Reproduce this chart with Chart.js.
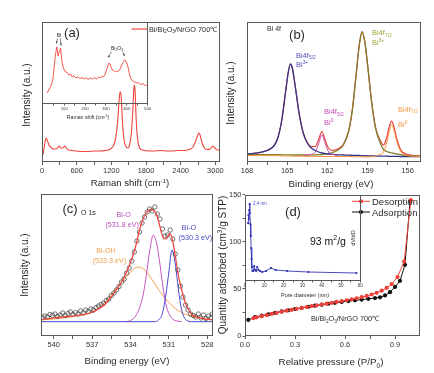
<!DOCTYPE html>
<html>
<head>
<meta charset="utf-8">
<script src="https://cdn.jsdelivr.net/npm/chart.js@4.4.1/dist/chart.umd.min.js"></script>
<style>
  body { margin: 0; background: #fff; }
  #wrap { position: relative; width: 434px; height: 373px; }
  canvas { position: absolute; left: 0; top: 0; }
</style>
</head>
<body>
<div id="wrap">
  <canvas id="ramanChart" width="434" height="373"></canvas>
  <canvas id="ramanInset" width="434" height="373"></canvas>
  <canvas id="bi4fChart" width="434" height="373"></canvas>
  <canvas id="o1sChart" width="434" height="373"></canvas>
  <canvas id="betChart" width="434" height="373"></canvas>
  <canvas id="poreChart" width="434" height="373"></canvas>
</div>
<script>
// ---- (a) Raman spectrum ----
const ramanShift = [15, 35, 55, 75, 95, 120, 150, 190, 230, 270, 300, 330, 360, 395, 420, 460, 520, 600, 700, 800,
  900, 1000, 1100, 1170, 1220, 1260, 1290, 1315, 1335, 1350, 1362, 1375, 1395, 1420, 1450, 1485, 1515, 1545, 1570, 1588,
  1600, 1612, 1630, 1655, 1690, 1740, 1850, 1950, 2050, 2150, 2250, 2350, 2450, 2550, 2610, 2660, 2695, 2715, 2735, 2765,
  2810, 2860, 2910, 2955, 2990, 3040, 3078];
const ramanInt = [7, 13, 21, 24, 21, 17, 15, 13, 13, 14, 16, 14, 14, 16, 14, 12, 11.5, 11, 10.5, 10.5,
  11, 11, 11.5, 12.5, 15, 20, 30, 45, 62, 70, 70, 60, 38, 22, 16, 14, 17, 28, 50, 72,
  77, 70, 42, 22, 14, 12, 11, 11, 11.5, 11, 11, 11.5, 11.5, 12.5, 15, 21, 27, 29, 27, 20,
  14, 12.5, 13, 16, 14, 12, 12];
const ramanTicks = [0, 300, 600, 900, 1200, 1500, 1800, 2100, 2400, 2700, 3000];

// inset: low wavenumber region
const insetShift = [18, 28, 38, 46, 52, 58, 64, 70, 76, 82, 88, 94, 100, 107, 114, 122, 130, 138, 146, 155,
  165, 175, 185, 195, 205, 215, 225, 235, 245, 255, 265, 275, 283, 290, 297, 303, 309, 315, 320, 326,
  332, 338, 345, 352, 359, 366, 372, 378, 384, 390, 395, 400, 406, 412, 418, 424, 430, 438, 446, 454,
  462, 470, 478, 486, 494, 501];
const insetInt = [11, 15, 19, 26, 38, 50, 57, 48, 52, 56, 44, 37, 34, 32, 31.5, 29, 30, 27, 28.5, 26,
  27, 25.5, 26.5, 25, 26, 24.5, 26, 25, 26.5, 25, 27, 26, 28, 27.5, 30, 34, 38, 41, 40, 36,
  34, 33.5, 32, 33, 32.5, 34, 37, 40, 42, 44, 43.5, 41, 37, 31, 26, 24, 22.5, 22, 21, 21.5,
  20, 19.5, 20.5, 19, 18.5, 18];
const insetTicks = [50, 100, 150, 200, 250, 300, 350, 400, 450, 500];

// ---- (b) Bi 4f ----
const bindBi = [168, 167.5, 167, 166.5, 166, 165.7, 165.4, 165.1, 164.9, 164.75, 164.6, 164.4, 164.1, 163.8, 163.5,
  163.2, 162.9, 162.65, 162.4, 162.15, 161.9, 161.6, 161.2, 160.8, 160.4, 160.1, 159.85, 159.6, 159.4, 159.2,
  158.95, 158.7, 158.4, 158.1, 157.8, 157.55, 157.35, 157.2, 157.0, 156.8, 156.5, 156.2, 155.8, 155.4, 155];
const bi52Bi3 = [8.2, 8.7, 9.6, 11.5, 16, 24, 42, 72, 91, 98, 93, 76, 48, 29, 19,
  14, 11.5, 10, 9, 8.4, 8, 7.6, 7.2, 7, 6.8, 6.7, 6.6, 6.5, 6.4, 6.3,
  6.2, 6.1, 6, 5.9, 5.8, 5.8, 5.7, 5.7, 5.6, 5.6, 5.5, 5.5, 5.4, 5.4, 5.3];
const bi72Bi3 = [7.5, 7.5, 7.4, 7.4, 7.3, 7.3, 7.2, 7.1, 7.1, 7.0, 7.0, 7.0, 7.0, 7.0, 7.0,
  7.1, 7.2, 7.3, 7.5, 8, 8.5, 9.5, 12, 17, 31, 55, 87, 118, 130, 120,
  92, 61, 34, 21, 12.5, 10.5, 9.6, 9.1, 8.5, 8, 7.3, 6.8, 6.4, 6.1, 5.9];
const bi72Bi0 = [6.5, 6.5, 6.4, 6.4, 6.3, 6.3, 6.2, 6.1, 6.0, 6.0, 5.9, 5.8, 5.7, 5.7, 5.6,
  5.6, 5.6, 5.5, 5.5, 5.5, 5.5, 5.5, 5.4, 5.4, 5.4, 5.3, 5.3, 5.2, 5.1, 5.0,
  5.0, 5.2, 6.2, 7.5, 10, 20, 32, 37, 31, 20, 10, 7, 6, 5.6, 5.4];
const biEnvelope = [8.2, 8.7, 9.6, 11.5, 16, 24, 42, 72, 91, 98, 93.1, 76.2, 48.3, 29.3, 19.8,
  15.4, 15.5, 22.3, 30.5, 21.4, 13.5, 11.6, 13.2, 17.6, 31.4, 55.4, 87.3, 118.3, 130.3, 120.3,
  92.3, 61.3, 34.9, 23, 16.9, 25.1, 36.1, 40.8, 34.1, 22.6, 12, 8.5, 7.0, 6.5, 6.0];
const bi52Bi0X = [163.8, 163.5, 163.2, 162.9, 162.65, 162.4, 162.15, 161.9, 161.6, 161.2];
const bi52Bi0 = [6.7, 7, 7.6, 10, 18, 27, 18, 10, 7.5, 6.8];
const biTicks = [156, 157.5, 159, 160.5, 162, 163.5, 165, 166.5, 168];

// ---- (c) O 1s ----
const o1sDataX = [540.9, 540.7, 540.5, 540.3, 540.1, 539.9, 539.7, 539.5, 539.3, 539.1, 538.9, 538.7, 538.5, 538.3, 538.1,
  537.9, 537.7, 537.5, 537.3, 537.1, 536.9, 536.7, 536.5, 536.3, 536.1, 535.9, 535.7, 535.5, 535.3, 535.1,
  534.9, 534.7, 534.5, 534.3, 534.1, 533.9, 533.7, 533.5, 533.3, 533.1, 532.9, 532.7, 532.5, 532.3, 532.1,
  531.9, 531.7, 531.5, 531.3, 531.1, 530.9, 530.7, 530.5, 530.3, 530.1, 529.9, 529.7, 529.5, 529.3, 529.1,
  528.9, 528.7, 528.5, 528.3, 528.1, 527.9, 527.7, 527.6];
const o1sDataY = [18.5, 20, 19, 21.5, 20.5, 22, 19.5, 21, 23, 20.5, 22.5, 24, 21.5, 23.5, 22,
  25, 23, 26, 24.5, 27, 26, 28.5, 30, 31.5, 33, 35.5, 37, 40.5, 43, 46,
  49.5, 54, 57, 63, 68, 75, 84, 95, 104, 113, 119, 124, 127, 125, 129,
  122, 117, 107, 100, 101, 106, 97, 82, 66, 50, 39, 31, 26, 22, 20.5,
  19, 22, 18, 21, 17.5, 20, 18.5, 22];
const o1sFitX = [541, 540, 539, 538, 537.2, 536.4, 535.9, 535.4, 534.9, 534.35, 533.85, 533.55, 533.3, 533.05, 532.78,
  532.6, 532.4, 532.2, 532.0, 531.75, 531.5, 531.35, 531.15, 530.9, 530.7, 530.45, 530.25, 530.05, 529.85, 529.65,
  529.4, 529.15, 528.8, 528.4, 528, 527.5];
const o1sFit = [16.5, 18, 19.3, 21, 22.7, 27.7, 33, 41, 50, 62.7, 79, 92, 106, 116, 122.7,
  125.5, 126.7, 125.5, 122.7, 112, 100, 97, 98, 102.7, 95, 76, 60, 49, 39, 31,
  25, 21, 19, 17.7, 16.8, 16];
const biOHX = [541, 540, 539, 538, 537, 536.5, 536, 535.5, 535, 534.5, 534, 533.7, 533.4, 533.1, 532.8, 532.4, 532,
  531.5, 531, 530.5, 530, 529.5, 529, 528.5, 528, 527.5];
const biOH = [16, 17, 18.5, 20.5, 24, 28, 34, 41, 49, 57, 64, 67.5, 69, 68, 65, 58, 50,
  41, 33.5, 27.5, 23.5, 21, 19, 17.5, 16.5, 16];
const biO1X = [534.4, 534, 533.6, 533.3, 533, 532.75, 532.5, 532.22, 531.95, 531.7, 531.45, 531.2, 530.9, 530.6, 530.3, 530];
const biO1 = [14.3, 15.5, 20, 28, 42, 62, 85, 101, 92, 72, 48, 30, 20, 16, 14.8, 14.3];
const biO2X = [541, 532.1, 531.8, 531.5, 531.25, 531, 530.76, 530.5, 530.25, 530, 529.75, 529.5, 529.2, 527.5];
const biO2 = [14.3, 14.3, 16, 23, 40, 64, 86, 72, 46, 26, 17.5, 15, 14.3, 14.3];
const o1sTicks = [528, 529.5, 531, 532.5, 534, 535.5, 537, 538.5, 540];

// ---- (d) N2 isotherm ----
const adsP = [0.02, 0.06, 0.10, 0.14, 0.18, 0.22, 0.26, 0.30, 0.34, 0.38, 0.42, 0.46, 0.50, 0.54, 0.58,
  0.62, 0.66, 0.70, 0.74, 0.78, 0.81, 0.84, 0.87, 0.90, 0.93, 0.96, 0.99];
const adsQ = [17, 20, 21.5, 23, 24.5, 26, 27.3, 28.6, 29.8, 31, 32.1, 33.2, 34.2, 35.2, 36.1,
  37, 37.8, 38.6, 39.4, 40.2, 41, 43, 46.5, 52, 58.5, 75.5, 143];
const desP = [0.995, 0.955, 0.915, 0.88, 0.85, 0.82, 0.79, 0.76, 0.73, 0.70, 0.67, 0.64, 0.61, 0.58, 0.55, 0.52,
  0.49, 0.46, 0.43, 0.40, 0.37, 0.34, 0.31, 0.28, 0.25, 0.22, 0.19, 0.16, 0.13, 0.10, 0.07, 0.05];
const desQ = [144, 79, 62.5, 55, 51, 48, 45.8, 44, 42.5, 41.2, 40, 38.9, 37.9, 37, 36.1, 35.2,
  34.3, 33.4, 32.5, 31.6, 30.7, 29.8, 28.8, 27.8, 26.8, 25.7, 24.6, 23.4, 22.2, 21, 19.8, 18.8];
const betTicksX = [0, 0.15, 0.3, 0.45, 0.6, 0.75, 0.9];
const betTicksY = [0, 25, 50, 75, 100, 125, 150];

// inset: pore size distribution
const poreD = [1.6, 1.8, 2.0, 2.2, 2.4, 2.6, 2.8, 3.0, 3.2, 3.4, 3.6, 3.9, 4.3, 4.8, 5.3, 5.8, 6.4, 7.0, 7.8, 9.0,
  11.0, 13.5, 16.0, 22.0, 33.0, 58.0];
const poreV = [58, 66, 62, 71, 77, 68, 57, 45, 33, 22, 14, 10, 10, 15, 11, 10, 14, 11, 10, 9,
  10, 13, 11, 10, 9, 8];
const poreTicks = [0, 5, 10, 15, 20, 25, 30, 35, 40, 45, 50, 55, 60];

// ---- helpers ----
const FONT = "'Liberation Sans', Arial, Helvetica, sans-serif";
const W = 434, H = 373;
const FRAME = '#5a5a5a';

function pts(xs, ys) {
  return xs.map(function (x, i) { return { x: x, y: ys[i] }; });
}

function curve(xs, ys, color, width) {
  return { data: pts(xs, ys), borderColor: color, borderWidth: width || 1, pointRadius: 0, fill: false };
}

function isMajor(v, step) {
  const r = v / step;
  return Math.abs(r - Math.round(r)) < 1e-6;
}

// the axis keeps a fixed band (size px) so its labels are not clipped away
function bottomAxis(min, max, ticks, step, fmt, size, reverse, tl, band) {
  return {
    type: 'linear', position: 'bottom', min: min, max: max, reverse: !!reverse,
    afterFit: function (s) { s.height = band; },
    afterBuildTicks: function (s) { s.ticks = ticks.map(function (v) { return { value: v }; }); },
    ticks: {
      autoSkip: false, maxRotation: 0, minRotation: 0, padding: 1, color: '#333',
      font: { family: FONT, size: size },
      callback: function (v) { return isMajor(v, step) ? fmt(v) : ''; }
    },
    grid: { drawOnChartArea: false, drawTicks: true, tickLength: tl || 3, color: FRAME },
    border: { display: false }
  };
}

function leftAxis(min, max, ticks, step, size, band) {
  return {
    type: 'linear', position: 'left', min: min, max: max,
    afterFit: function (s) { s.width = band; },
    afterBuildTicks: function (s) { s.ticks = ticks.map(function (v) { return { value: v }; }); },
    ticks: {
      autoSkip: false, padding: 1, color: '#333',
      font: { family: FONT, size: size },
      callback: function (v) { return isMajor(v, step) ? String(v) : ''; }
    },
    grid: { drawOnChartArea: false, drawTicks: true, tickLength: 2.5, color: FRAME },
    border: { display: false }
  };
}

function hiddenAxis(min, max) {
  return { type: 'linear', min: min, max: max, display: false };
}

function drawRich(ctx, n) {
  const size = n.size;
  const parts = [];
  n.s.split(/(_\{[^}]*\}|\^\{[^}]*\})/).forEach(function (p) {
    if (!p) return;
    if (p[0] === '_' && p[1] === '{') parts.push({ t: p.slice(2, -1), dy: 0.24 * size, sz: 0.65 * size });
    else if (p[0] === '^' && p[1] === '{') parts.push({ t: p.slice(2, -1), dy: -0.4 * size, sz: 0.65 * size });
    else parts.push({ t: p, dy: 0, sz: size });
  });
  let w = 0;
  parts.forEach(function (p) {
    ctx.font = p.sz + 'px ' + FONT;
    p.w = ctx.measureText(p.t).width;
    w += p.w;
  });
  ctx.save();
  ctx.translate(n.x, n.y);
  if (n.rot) ctx.rotate(n.rot * Math.PI / 180);
  ctx.fillStyle = n.color || '#2a2a2a';
  ctx.textBaseline = 'alphabetic';
  ctx.textAlign = 'left';
  let x = n.align === 'left' ? 0 : -w / 2;
  parts.forEach(function (p) {
    ctx.font = p.sz + 'px ' + FONT;
    ctx.fillText(p.t, x, 0.35 * size + p.dy);
    x += p.w;
  });
  ctx.restore();
}

function arrow(ctx, a) {
  const ang = Math.atan2(a[3] - a[1], a[2] - a[0]);
  ctx.save();
  ctx.strokeStyle = '#333';
  ctx.fillStyle = '#333';
  ctx.lineWidth = 0.6;
  ctx.beginPath();
  ctx.moveTo(a[0], a[1]);
  ctx.lineTo(a[2], a[3]);
  ctx.stroke();
  ctx.beginPath();
  ctx.moveTo(a[2], a[3]);
  ctx.lineTo(a[2] - 2.2 * Math.cos(ang - 0.45), a[3] - 2.2 * Math.sin(ang - 0.45));
  ctx.lineTo(a[2] - 2.2 * Math.cos(ang + 0.45), a[3] - 2.2 * Math.sin(ang + 0.45));
  ctx.closePath();
  ctx.fill();
  ctx.restore();
}

// frame = [left, top, right, bottom] of the plot box; xBand/yBand = room kept for tick labels
function makeChart(id, frame, xBand, yBand, datasets, scales, notes, extra) {
  return new Chart(document.getElementById(id), {
    type: 'line',
    data: { datasets: datasets },
    options: {
      responsive: false, animation: false, events: [], devicePixelRatio: 1,
      layout: {
        autoPadding: false,
        padding: { left: frame[0] - yBand, top: frame[1], right: W - frame[2], bottom: H - frame[3] - xBand }
      },
      plugins: { legend: { display: false }, tooltip: { enabled: false } },
      elements: { line: { cubicInterpolationMode: 'monotone' } },
      scales: scales
    },
    plugins: [{
      id: 'notes_' + id,
      afterDraw: function (chart) {
        const ctx = chart.ctx, a = chart.chartArea;
        ctx.save();
        ctx.strokeStyle = FRAME;
        ctx.lineWidth = 1;
        const l = Math.round(a.left), t = Math.round(a.top);
        ctx.strokeRect(l + 0.5, t + 0.5, Math.round(a.right) - l - 1, Math.round(a.bottom) - t - 1);
        ctx.restore();
        if (extra) extra(ctx);
        (notes || []).forEach(function (n) { drawRich(ctx, n); });
      }
    }]
  });
}

const RED = '#f0453b';
const num = function (v) { return String(v); };

// (a) main
makeChart('ramanChart', [42, 22, 220, 162], 12, 0,
  [Object.assign(curve(ramanShift, ramanInt, RED, 1.1), { tension: 0.3 })],
  {
    x: bottomAxis(0, 3080, ramanTicks, 600, num, 7.5, false, 3, 12),
    y: hiddenAxis(0, 140)
  },
  [
    { x: 72, y: 32, s: '(a)', size: 13 },
    { x: 149, y: 29, s: 'Bi/Bi_{2}O_{3}/NrGO 700\u2103', size: 7.3, align: 'left' },
    { x: 130, y: 183, s: 'Raman shift (cm^{-1})', size: 9.6 },
    { x: 26, y: 95, s: 'Intensity (a.u.)', size: 10, rot: -90 }
  ],
  function (ctx) {
    ctx.save();
    ctx.strokeStyle = RED;
    ctx.lineWidth = 1.2;
    ctx.beginPath();
    ctx.moveTo(131.5, 29);
    ctx.lineTo(147, 29);
    ctx.stroke();
    ctx.restore();
  });

// (a) inset
makeChart('ramanInset', [42, 22, 148, 104], 8, 0,
  [Object.assign(curve(insetShift, insetInt, RED, 0.9), { cubicInterpolationMode: 'default', tension: 0 })],
  {
    x: bottomAxis(-7, 502, insetTicks, 100, num, 4.3, false, 1.5, 8),
    y: hiddenAxis(0, 82)
  },
  [
    { x: 59, y: 35.5, s: 'Bi', size: 5 },
    { x: 117, y: 48.5, s: 'Bi_{2}O_{3}', size: 5 },
    { x: 88, y: 117, s: 'Raman shift (cm^{-1})', size: 5.2 }
  ],
  function (ctx) {
    [[57.5, 38.5, 56.3, 43.5], [60.5, 38.5, 61, 45.5], [111.5, 51.5, 108.3, 57.5], [122.5, 51.5, 124.5, 56]]
      .forEach(function (a) { arrow(ctx, a); });
  });

// (b) Bi 4f
makeChart('bi4fChart', [247, 22, 421, 162], 12, 0,
  [
    curve(bindBi, bi72Bi0, '#f7923a', 1),
    curve(bi52Bi0X, bi52Bi0, '#cc4fae', 1),
    curve(bindBi, bi52Bi3, '#34348a', 1.3),
    curve(bindBi, bi72Bi3, '#7f7f2e', 1.3),
    curve(bindBi, biEnvelope, '#e8403a', 1.2)
  ],
  {
    x: bottomAxis(155, 168, biTicks, 3, num, 7.5, true, 3, 12),
    y: hiddenAxis(0, 140)
  },
  [
    { x: 267, y: 28.3, s: 'Bi 4f', size: 7, align: 'left' },
    { x: 297, y: 34.3, s: '(b)', size: 13 },
    { x: 296, y: 55, s: 'Bi4f_{5/2}', size: 7.5, align: 'left', color: '#4f4fb5' },
    { x: 296, y: 64, s: 'Bi^{3+}', size: 7.5, align: 'left', color: '#4f4fb5' },
    { x: 324, y: 111.7, s: 'Bi4f_{5/2}', size: 7.5, align: 'left', color: '#c04fb0' },
    { x: 324, y: 122.7, s: 'Bi^{0}', size: 7.5, align: 'left', color: '#c04fb0' },
    { x: 372, y: 32.3, s: 'Bi4f_{7/2}', size: 7.5, align: 'left', color: '#a3a33c' },
    { x: 372, y: 42.3, s: 'Bi^{3+}', size: 7.5, align: 'left', color: '#a3a33c' },
    { x: 398, y: 109, s: 'Bi4f_{7/2}', size: 7.5, align: 'left', color: '#f59a45' },
    { x: 398, y: 124, s: 'Bi^{0}', size: 7.5, align: 'left', color: '#f59a45' },
    { x: 331, y: 183.5, s: 'Binding energy (eV)', size: 9.6 },
    { x: 230, y: 93, s: 'Intensity (a.u.)', size: 10, rot: -90 }
  ]);

// (c) O 1s
makeChart('o1sChart', [41, 194, 213, 336], 12, 0,
  [
    curve(o1sFitX, o1sFit, '#f0403c', 1.2),
    {
      data: pts(o1sDataX, o1sDataY), showLine: false, pointRadius: 2.2, pointBorderWidth: 0.7,
      pointBorderColor: '#3a3a3a', pointBackgroundColor: 'rgba(255,255,255,0)'
    },
    curve(biO2X, biO2, '#4b4bd0', 1),
    curve(biO1X, biO1, '#c456c0', 1),
    curve(biOHX, biOH, '#f5a04c', 1)
  ],
  {
    x: bottomAxis(527.55, 541, o1sTicks, 3, num, 7.5, true, 3, 12),
    y: hiddenAxis(0, 142)
  },
  [
    { x: 70, y: 208.3, s: '(c)', size: 13 },
    { x: 81, y: 212.3, s: 'O 1s', size: 7, align: 'left' },
    { x: 123.7, y: 214.3, s: 'Bi-O', size: 7.2, color: '#b74fb7' },
    { x: 122.2, y: 224.3, s: '(531.8 eV)', size: 7.2, color: '#b74fb7' },
    { x: 189, y: 227.7, s: 'Bi-O', size: 7.2, color: '#4545c0' },
    { x: 195.3, y: 237.7, s: '(530.3 eV)', size: 7.2, color: '#4545c0' },
    { x: 106, y: 250, s: 'Bi-OH', size: 7.2, color: '#f2a048' },
    { x: 109.5, y: 260, s: '(533.3 eV)', size: 7.2, color: '#f2a048' },
    { x: 127, y: 361, s: 'Binding energy (eV)', size: 9.6 },
    { x: 24, y: 265, s: 'Intensity (a.u.)', size: 10, rot: -90 }
  ]);

// (d) isotherm
makeChart('betChart', [245, 194.5, 420, 336], 12, 16,
  [
    {
      data: pts(desP, desQ), borderColor: '#f0403a', borderWidth: 1, pointRadius: 2.1, pointBorderWidth: 0,
      pointBackgroundColor: '#f0403a', cubicInterpolationMode: 'default', tension: 0
    },
    {
      data: pts(adsP, adsQ), borderColor: '#111', borderWidth: 1, pointRadius: 2.1, pointBorderWidth: 0,
      pointBackgroundColor: '#111', cubicInterpolationMode: 'default', tension: 0
    }
  ],
  {
    x: bottomAxis(0, 1.05, betTicksX, 0.3, function (v) { return v.toFixed(1); }, 7.5, false, 3, 12),
    y: leftAxis(0, 150, betTicksY, 50, 7.5, 16)
  },
  [
    { x: 293, y: 211, s: '(d)', size: 13 },
    { x: 310, y: 241, s: '93 m^{2}/g', size: 10.5, align: 'left', color: '#111' },
    { x: 345, y: 318.3, s: 'Bi/Bi_{2}O_{3}/NrGO 700\u2103', size: 7.3 },
    { x: 372, y: 201.5, s: 'Desorption', size: 9.5, align: 'left' },
    { x: 372, y: 212.3, s: 'Adsorption', size: 9.5, align: 'left' },
    { x: 331, y: 362, s: 'Relative pressure (P/P_{0})', size: 9.8 },
    { x: 222, y: 265, s: 'Quantity adsorbed (cm^{3}/g STP)', size: 10, rot: -90 }
  ],
  function (ctx) {
    [[201.3, '#f0403a'], [212, '#111']].forEach(function (l) {
      ctx.save();
      ctx.strokeStyle = l[1];
      ctx.fillStyle = l[1];
      ctx.lineWidth = 1;
      ctx.beginPath();
      ctx.moveTo(352, l[0]);
      ctx.lineTo(370, l[0]);
      ctx.stroke();
      ctx.beginPath();
      ctx.arc(361, l[0], 2.1, 0, Math.PI * 2);
      ctx.fill();
      ctx.restore();
    });
  });

// (d) inset
makeChart('poreChart', [245, 194.5, 361, 281], 8, 0,
  [{
    data: pts(poreD, poreV), borderColor: '#3535b5', borderWidth: 0.9, pointRadius: 1.3, pointStyle: 'rect',
    pointBorderWidth: 0, pointBackgroundColor: '#3535b5', cubicInterpolationMode: 'default', tension: 0
  }],
  {
    x: bottomAxis(0, 60.4, poreTicks, 10, num, 4.5, false, 1.5, 8),
    y: hiddenAxis(0, 86.5)
  },
  [
    { x: 253, y: 203, s: '2.4 nm', size: 4.5, align: 'left', color: '#4a4ad0' },
    { x: 305, y: 295, s: 'Pore diameter (nm)', size: 5.6 },
    { x: 353, y: 238, s: 'dV/dD', size: 5.5, rot: -90 }
  ]);
</script>
</body>
</html>
